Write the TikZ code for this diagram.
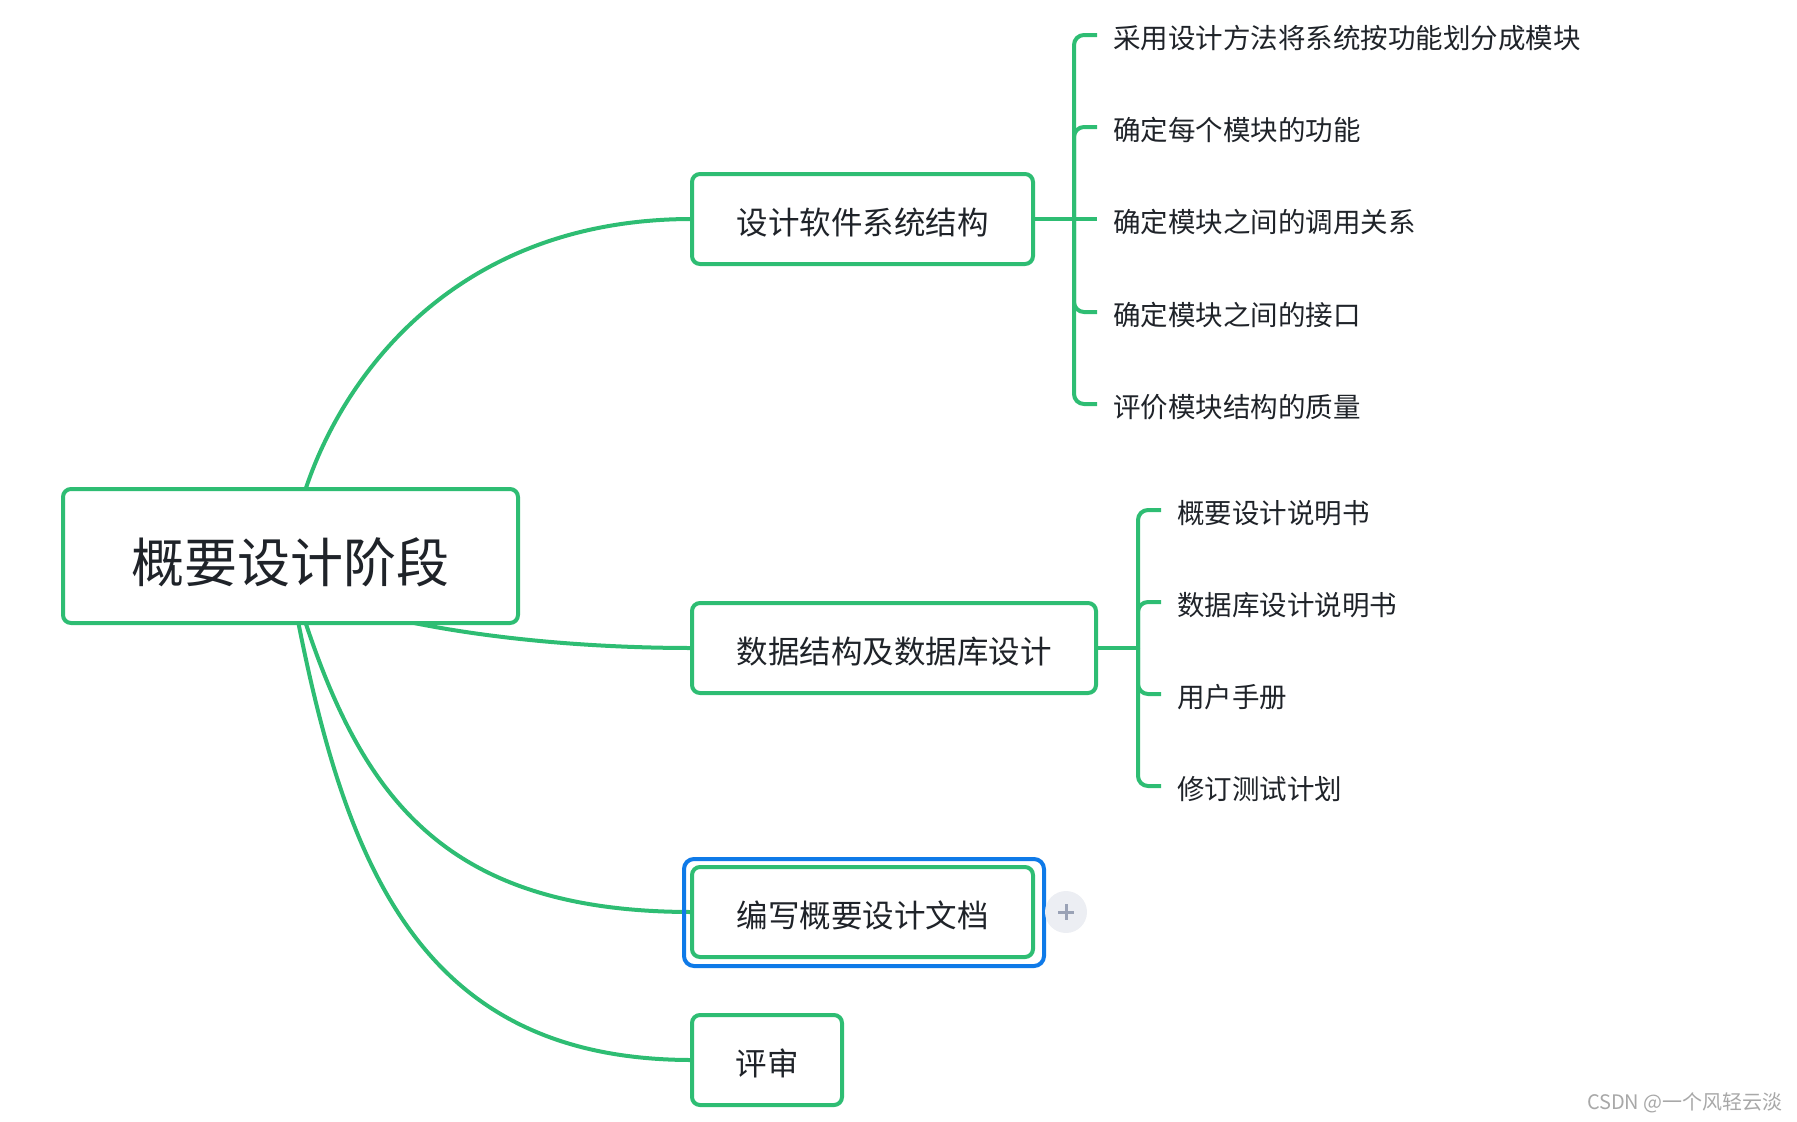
\documentclass[tikz,border=0pt]{standalone}
\usepackage{fontspec}
\setmainfont{Noto Sans CJK SC}
\usetikzlibrary{calc}
\pgfdeclarelayer{bg}
\pgfsetlayers{bg,main}
\definecolor{mgreen}{HTML}{2EBD73}
\definecolor{mblue}{HTML}{0F7AE8}
\definecolor{mtext}{HTML}{1F2329}
\definecolor{pfill}{HTML}{ECEEF3}
\definecolor{pplus}{HTML}{9AA2B6}
\definecolor{wmark}{HTML}{A8A8A8}
\begin{document}
\begin{tikzpicture}[x=1pt,y=-1pt,
  topic/.style={draw=mgreen, line width=4pt, rounded corners=8pt, fill=white, text=mtext,
    inner sep=0pt, outer sep=0pt, minimum height=90pt, text height=35.2pt, text depth=4pt,
    font=\fontsize{31.5}{36}\selectfont},
  roottopic/.style={topic, minimum width=455pt, minimum height=134pt, text height=58.4pt, text depth=6pt,
    font=\fontsize{53}{60}\selectfont},
  leaf/.style={anchor=west, text=mtext, inner sep=0pt, outer sep=0pt, text height=29.9pt, text depth=3.5pt,
    font=\fontsize{27.5}{32}\selectfont},
  link/.style={draw=mgreen, line width=4pt},
  branch/.style={draw=mgreen, line width=4pt, rounded corners=10pt}
]
\useasboundingbox (0,0) rectangle (1797,1122);

% main topics
\node[roottopic] (root) at (290.5,556) {概要设计阶段};
\node[topic, minimum width=341pt] (b1) at (862.5,219) {设计软件系统结构};
\node[topic, minimum width=404pt] (b2) at (894,648) {数据结构及数据库设计};
\node[topic, minimum width=341pt] (b3) at (862.5,912) {编写概要设计文档};
\node[topic, minimum width=150pt] (b4) at (767,1060) {评审};

% selection frame and plus button
\draw[mblue, line width=4pt, rounded corners=10pt] ($(b3.south west)+(-8,9)$) rectangle ($(b3.north east)+(11,-8)$);
\node[circle, fill=pfill, minimum size=42pt, inner sep=0pt] (plus) at (1066,912) {};
\draw[pplus, line width=3pt] ($(plus.center)+(-8,0)$) -- ($(plus.center)+(8,0)$);
\draw[pplus, line width=3pt] ($(plus.center)+(0,-8)$) -- ($(plus.center)+(0,8)$);

% leaves of b1
\node[leaf] (l11) at (1113,35) {采用设计方法将系统按功能划分成模块};
\node[leaf] (l12) at (1113,127) {确定每个模块的功能};
\node[leaf] (l13) at (1113,219) {确定模块之间的调用关系};
\node[leaf] (l14) at (1113,312) {确定模块之间的接口};
\node[leaf] (l15) at (1113,404) {评价模块结构的质量};

% leaves of b2
\node[leaf] (l21) at (1177,510) {概要设计说明书};
\node[leaf] (l22) at (1177,602) {数据库设计说明书};
\node[leaf] (l23) at (1177,694) {用户手册};
\node[leaf] (l24) at (1177,786) {修订测试计划};

% watermark
\node[anchor=east, text=wmark, inner sep=0pt, font=\fontsize{20}{24}\selectfont] (wm) at (1783,1103) {CSDN @一个风轻云淡};

\coordinate (j1) at (1074,219);
\coordinate (j2) at (1138,648);
\coordinate (s1) at (305,491);
\coordinate (s2) at (395,619);
\coordinate (s3) at (305,621);
\coordinate (s4) at (298,621);

\begin{pgfonlayer}{bg}
\draw[link] (s1) .. controls (340,383) and (450,219) .. (b1.west);
\draw[link] (s2) .. controls (490,640) and (599,648) .. (b2.west);
\draw[link] (s3) .. controls (365,803) and (450,912) .. (b3.west);
\draw[link] (s4) .. controls (348,873) and (425,1060) .. (b4.west);
\end{pgfonlayer}

% bracket b1
\draw[link] (b1.east) -- ($(l13.west)+(-16,0)$);
\draw[branch] (j1) |- ($(l11.west)+(-16,0)$);
\draw[branch] (j1) |- ($(l12.west)+(-16,0)$);
\draw[branch] (j1) |- ($(l14.west)+(-16,0)$);
\draw[branch] (j1) |- ($(l15.west)+(-16,0)$);

% bracket b2
\draw[link] (b2.east) -- (j2);
\draw[branch] (j2) |- ($(l21.west)+(-16,0)$);
\draw[branch] (j2) |- ($(l22.west)+(-16,0)$);
\draw[branch] (j2) |- ($(l23.west)+(-16,0)$);
\draw[branch] (j2) |- ($(l24.west)+(-16,0)$);
\end{tikzpicture}
\end{document}
